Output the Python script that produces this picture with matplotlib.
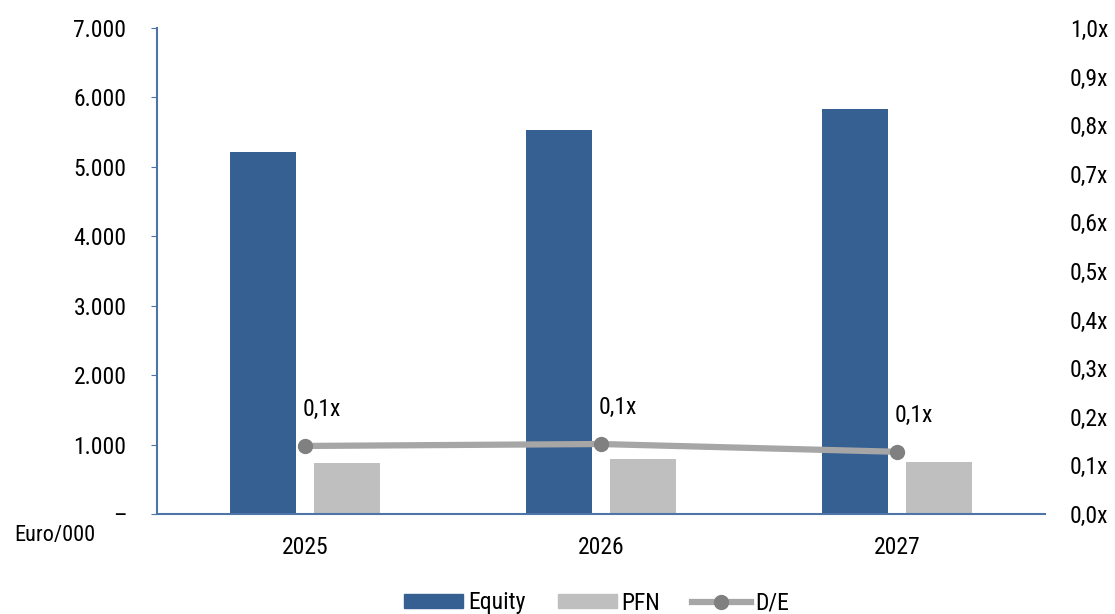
import matplotlib
matplotlib.use("Agg")
import matplotlib.pyplot as plt
import numpy as np
from matplotlib.lines import Line2D
from matplotlib.patches import Patch

plt.rcParams['font.family'] = ['Roboto Condensed', 'Liberation Sans', 'DejaVu Sans']

years = ["2025", "2026", "2027"]
equity = [5220, 5530, 5830]
pfn = [735, 797, 749]
de_ratio = [0.140, 0.144, 0.128]
de_labels = ["0,1x", "0,1x", "0,1x"]
left_ticks = [0, 1000, 2000, 3000, 4000, 5000, 6000, 7000]
left_ticklabels = ["–", "1.000", "2.000", "3.000", "4.000", "5.000", "6.000", "7.000"]
right_ticks = [i / 10 for i in range(11)]
right_ticklabels = [f"{i/10:.1f}".replace(".", ",") + "x" for i in range(11)]

c_eq = "#366092"
c_pfn = "#bfbfbf"
c_line = "#a6a6a6"
c_mark = "#808080"
c_spine = "#4f75a8"
fs = 17

fig = plt.figure(figsize=(11.15, 6.14), dpi=100)
ax = fig.add_axes([157/1115, 1 - 514/614, (1045-157)/1115, (514-28)/614])
x = np.arange(len(years))
w = 0.223
ax.bar(x - 0.142, equity, w, color=c_eq, zorder=2)
ax.bar(x + 0.142, pfn, w, color=c_pfn, zorder=2)
ax.set_xlim(-0.5, 2.5)
ax.set_ylim(0, 7000)
ax.set_yticks(left_ticks)
ax.set_yticklabels(left_ticklabels, fontsize=fs)
ax.set_xticks(x)
ax.set_xticklabels(years, fontsize=fs)
ax.tick_params(axis='x', length=0, pad=16)
ax.tick_params(axis='y', length=4, color=c_spine, pad=18, direction='out')
for s in ['top', 'right']:
    ax.spines[s].set_visible(False)
for s in ['left', 'bottom']:
    ax.spines[s].set_color(c_spine)
    ax.spines[s].set_linewidth(1.5)

ax2 = ax.twinx()
ax2.plot(x, de_ratio, color=c_line, lw=4.5, marker='o', ms=10,
         markerfacecolor=c_mark, markeredgecolor=c_mark, zorder=3)
ax2.set_ylim(0, 1.0)
ax2.set_yticks(right_ticks)
ax2.set_yticklabels(right_ticklabels, fontsize=fs)
ax2.tick_params(axis='y', length=0, pad=18)
for s in ['top', 'right', 'left', 'bottom']:
    ax2.spines[s].set_visible(False)
for xi, yi, lab in zip(x, de_ratio, de_labels):
    ax2.annotate(lab, (xi, yi), xytext=(-1.5, 18), textcoords='offset points',
                 ha='left', va='bottom', fontsize=fs)

fig.text(14/1115, 1 - 536/614, "Euro/000", fontsize=16, ha='left', va='center')

handles = [Patch(color=c_eq, label="Equity"),
           Patch(color=c_pfn, label="PFN"),
           Line2D([0], [0], color=c_line, lw=4.5, marker='o', ms=10,
                  markerfacecolor=c_mark, markeredgecolor=c_mark, label="D/E")]
fig.legend(handles=handles, loc='center', bbox_to_anchor=(597/1115, 1 - 603/614),
           ncol=3, frameon=False, fontsize=fs, handlelength=2.5, handleheight=0.5,
           columnspacing=1.35, handletextpad=0.2)

fig.savefig("out.png", dpi=100)
